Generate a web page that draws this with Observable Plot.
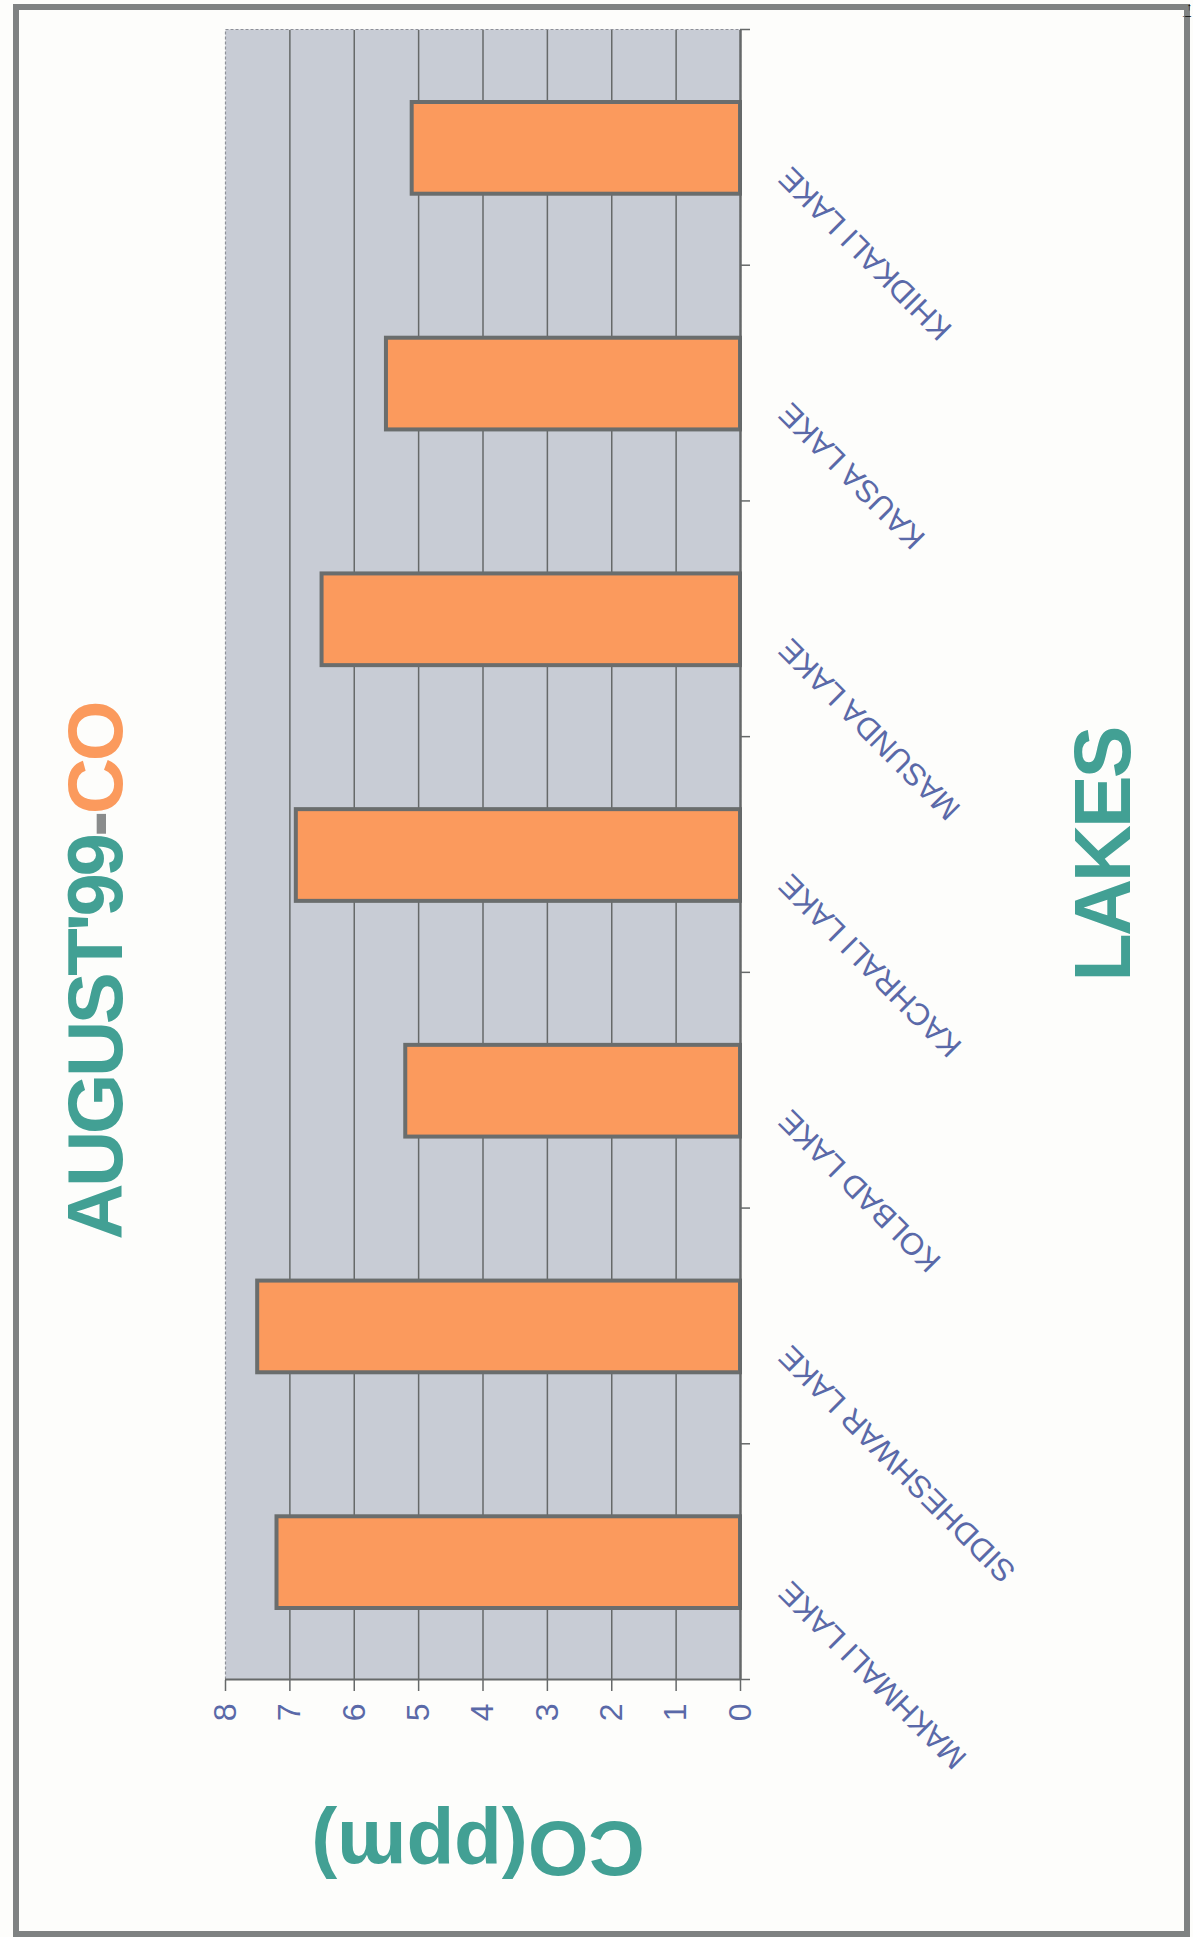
<!DOCTYPE html>
<html>
<head>
<meta charset="utf-8">
<script src="https://cdn.jsdelivr.net/npm/d3@7"></script>
<script src="https://cdn.jsdelivr.net/npm/@observablehq/plot@0.6"></script>
<style>
  html, body { margin: 0; padding: 0; background: #fdfdfb; }
  body { width: 1193px; height: 1937px; overflow: hidden; position: relative; }
  /* the chart is laid out landscape and then turned a quarter turn counter-clockwise */
  #chart svg {
    position: absolute; left: 0; top: 0;
    width: 1937px !important; height: 1193px !important;
    max-width: none !important;
    transform-origin: 0 0;
    transform: translate(0px, 1937px) rotate(-90deg);
  }
</style>
</head>
<body>
<div id="chart"></div>
<script>
// Carbon monoxide readings at the lakes, August 1999
const lakes = [
  "MAKHMALI LAKE",
  "SIDDHESHWAR LAKE",
  "KOLBAD LAKE",
  "KACHRALI LAKE",
  "MASUNDA LAKE",
  "KAUSA LAKE",
  "KHIDKALI LAKE"
];
const coPpm = [7.2, 7.5, 5.2, 6.9, 6.5, 5.5, 5.1];
const valueTicks = [0, 1, 2, 3, 4, 5, 6, 7, 8];
const gridValues = [1, 2, 3, 4, 5, 6, 7];
const titleParts = ["AUGUST'99", "-", "CO"];
const yTitle = "CO(ppm)";
const xTitle = "LAKES";

const rows = lakes.map((name, i) => ({name, i, co: coPpm[i]}));
const boundaries = d3.range(lakes.length + 1);

const teal = "#42a094";
const orange = "#fb9a5d";
const lineGray = "#666969";
const labelBlue = "#5a69a8";
const font = "'Liberation Sans', Arial, Helvetica, sans-serif";

const W = 1937, H = 1193;

const chart = Plot.plot({
  width: W,
  height: H,
  marginLeft: 257,
  marginRight: 30,
  marginTop: 225,
  marginBottom: 453,
  style: {fontFamily: font, background: "#fdfdfb", overflow: "visible", maxWidth: "none"},
  x: {domain: [0, lakes.length], axis: null},
  y: {domain: [0, 8], axis: null},
  marks: [
    Plot.frame({fill: "#c8ccd5", stroke: "#8d9098", strokeWidth: 1.2, strokeDasharray: "3,2"}),
    Plot.ruleY(gridValues, {stroke: lineGray, strokeWidth: 1.5}),
    Plot.rectY(rows, {
      x1: "i",
      x2: d => d.i + 1,
      y1: 0,
      y2: "co",
      insetLeft: 72,
      insetRight: 72,
      fill: orange,
      stroke: "#6a6d6d",
      strokeWidth: 4
    }),
    Plot.ruleY([0], {stroke: lineGray, strokeWidth: 2.5}),
    Plot.ruleX([0], {stroke: lineGray, strokeWidth: 2}),
    Plot.axisX({
      ticks: boundaries,
      tickSize: 10,
      tickFormat: () => "",
      stroke: lineGray,
      strokeWidth: 1.5
    }),
    Plot.axisY({
      ticks: valueTicks,
      tickSize: 11,
      tickPadding: 13,
      fontSize: 32,
      fill: labelBlue,
      stroke: lineGray,
      strokeWidth: 1.5,
      label: null
    }),
    Plot.text(rows, {
      x: d => d.i + 0.5,
      y: () => 0,
      text: "name",
      rotate: -45,
      textAnchor: "end",
      dx: -25,
      dy: 44,
      fontSize: 31,
      fill: labelBlue
    })
  ]
});

const svg = d3.select(chart);

// outer border of the sheet
svg.insert("rect", ":first-child")
  .attr("x", 3).attr("y", 16)
  .attr("width", 1927).attr("height", 1171)
  .attr("fill", "none")
  .attr("stroke", "#7f8282")
  .attr("stroke-width", 6);

// title
const title = svg.append("text")
  .attr("x", 965).attr("y", 122)
  .attr("text-anchor", "middle")
  .attr("letter-spacing", -3.5)
  .style("font", `bold 78px ${font}`);
title.append("tspan").attr("fill", teal).text(titleParts[0]);
title.append("tspan").attr("fill", "#8a8c8c").text(titleParts[1]);
title.append("tspan").attr("fill", orange).text(titleParts[2]);

// value axis title
svg.append("text")
  .attr("transform", "translate(115,478) rotate(-90)")
  .attr("text-anchor", "middle")
  .attr("fill", teal)
  .style("font", `bold 78px ${font}`)
  .text(yTitle);

// category axis title
svg.append("text")
  .attr("x", 1082).attr("y", 1130)
  .attr("text-anchor", "middle")
  .attr("letter-spacing", -3)
  .attr("fill", teal)
  .style("font", `bold 79px ${font}`)
  .text(xTitle);

document.getElementById("chart").appendChild(chart);
</script>
</body>
</html>
